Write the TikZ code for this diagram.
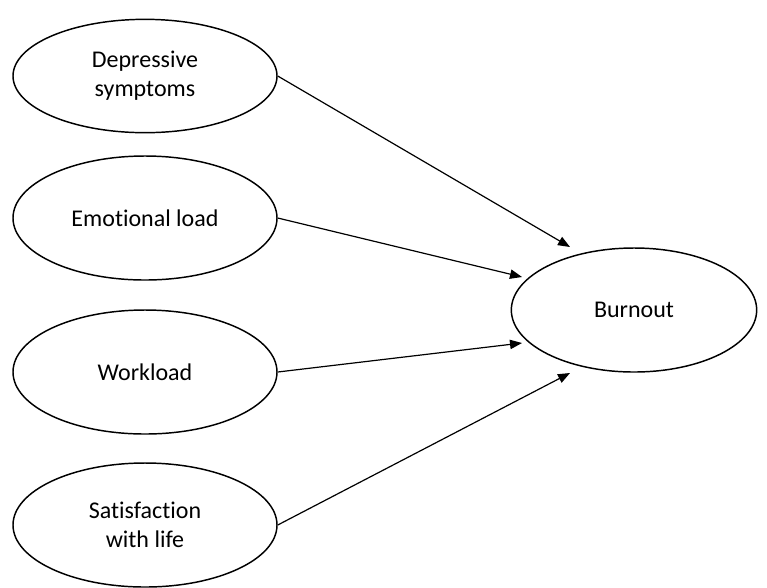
\documentclass[tikz,border=0pt]{standalone}
\usepackage{fontspec}
\setmainfont[Ligatures=NoCommon]{Carlito}
\usepackage{tikz}
\usetikzlibrary{shapes.geometric,arrows.meta}

\begin{document}
\begin{tikzpicture}[x=0.75pt, y=-0.75pt,
    factor/.style={draw, ellipse, line width=1.1pt, inner sep=0pt, align=center, font=\fontsize{18}{21.5}\selectfont, minimum width=198pt, minimum height=93pt},
    link/.style={-{Triangle[length=9pt, width=7pt]}, line width=0.9pt}]
    \useasboundingbox (0,0) rectangle (767,587);
    \node[factor, minimum height=85pt] (depr) at (145,76) {Depressive\\symptoms};
    \node[factor] (emo) at (145,218) {Emotional load};
    \node[factor] (work) at (145,372) {Workload};
    \node[factor] (sat) at (145,525) {Satisfaction\\with life};
    \node[factor, minimum width=184pt] (burn) at (634,310) {Burnout};
    \coordinate (t1) at (570,247);
    \coordinate (t2) at (522,277);
    \coordinate (t3) at (522,343);
    \coordinate (t4) at (570,373);
    \draw[link] (depr.east) -- (t1);
    \draw[link] (emo.east) -- (t2);
    \draw[link] (work.east) -- (t3);
    \draw[link] (sat.east) -- (t4);
\end{tikzpicture}
\end{document}
